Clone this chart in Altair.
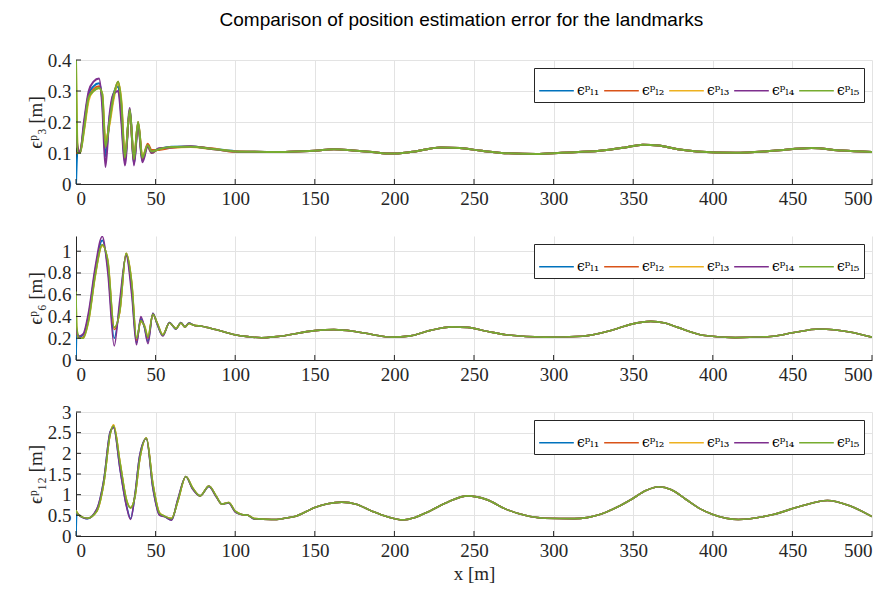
import altair as alt
import pandas as pd

TITLE = "Comparison of position estimation error for the landmarks"
LABELS = ["ϵᵖₗ₁", "ϵᵖₗ₂", "ϵᵖₗ₃", "ϵᵖₗ₄", "ϵᵖₗ₅"]
COLORS = ["#0072BD", "#D95319", "#EDB120", "#7E2F8E", "#77AC30"]
X_TICKS = [0, 50, 100, 150, 200, 250, 300, 350, 400, 450, 500]

# ---------------- panel 1 : eps_3 ----------------
P1_X = [0, 1, 2.5, 5, 8, 11, 14.5, 16.5, 18.5, 21, 23.5, 26.5, 28.5, 30.7, 33.8,
        36.4, 39, 41.7, 45, 47.5, 52, 60, 72, 85, 100]
P1_L1 = [0, 0.11, 0.1, 0.19, 0.29, 0.315, 0.325, 0.27, 0.09, 0.21, 0.29, 0.315, 0.22, 0.07, 0.24,
         0.065, 0.195, 0.075, 0.125, 0.105, 0.112, 0.12, 0.121, 0.114, 0.106]
P1_L2 = [0.1, 0.1, 0.105, 0.18, 0.28, 0.305, 0.315, 0.28, 0.12, 0.2, 0.28, 0.33, 0.25, 0.08, 0.235,
         0.07, 0.2, 0.08, 0.13, 0.11, 0.11, 0.117, 0.12, 0.115, 0.104]
P1_L3 = [0.4, 0.12, 0.1, 0.17, 0.27, 0.3, 0.31, 0.29, 0.14, 0.19, 0.27, 0.325, 0.27, 0.09, 0.23,
         0.085, 0.195, 0.09, 0.12, 0.1, 0.113, 0.118, 0.119, 0.113, 0.106]
P1_L4 = [0.16, 0.12, 0.1, 0.2, 0.3, 0.33, 0.34, 0.25, 0.055, 0.22, 0.29, 0.30, 0.2, 0.06, 0.245,
         0.06, 0.19, 0.07, 0.12, 0.1, 0.115, 0.118, 0.122, 0.113, 0.105]
P1_L5 = [0.4, 0.1, 0.1, 0.175, 0.28, 0.3, 0.31, 0.29, 0.12, 0.2, 0.28, 0.33, 0.26, 0.085, 0.24,
         0.08, 0.2, 0.085, 0.125, 0.105, 0.112, 0.119, 0.12, 0.114, 0.105]
P1_TAIL_X = [110, 126, 138, 150, 162, 174, 186, 198, 210, 229, 241, 255, 272, 289, 305, 329,
             345, 356, 366, 378, 390, 414, 438, 462, 481, 500]
P1_TAIL_Y = [0.104, 0.103, 0.105, 0.107, 0.112, 0.108, 0.103, 0.098, 0.103, 0.118, 0.116, 0.107,
             0.099, 0.097, 0.101, 0.107, 0.118, 0.127, 0.124, 0.112, 0.105, 0.101, 0.107, 0.116,
             0.108, 0.103]
P1_YTICKS = [0, 0.1, 0.2, 0.3, 0.4]

# ---------------- panel 2 : eps_6 ----------------
P2_X = [0, 0.5, 2, 4.5, 8, 12, 16.5, 20, 24, 27.5, 31.5, 35, 38, 40.7, 43, 45.2, 48.3, 51,
        54.5, 58.7, 62.8, 65.9, 68.4, 71, 74, 79, 87.6, 99, 108, 116.5]
P2_L1 = [0, 0.25, 0.21, 0.23, 0.42, 0.82, 1.10, 0.85, 0.2, 0.5, 0.97, 0.65, 0.16, 0.38, 0.3,
         0.17, 0.43, 0.33, 0.225, 0.345, 0.285, 0.345, 0.305, 0.34, 0.32, 0.31, 0.28, 0.235,
         0.215, 0.205]
P2_L2 = [0.35, 0.25, 0.2, 0.21, 0.38, 0.78, 1.06, 0.9, 0.28, 0.45, 0.98, 0.7, 0.18, 0.36, 0.31,
         0.2, 0.42, 0.34, 0.23, 0.34, 0.29, 0.34, 0.305, 0.335, 0.32, 0.31, 0.28, 0.235,
         0.215, 0.205]
P2_L3 = [0.6, 0.3, 0.2, 0.2, 0.36, 0.76, 1.05, 0.92, 0.3, 0.44, 0.98, 0.72, 0.2, 0.35, 0.32,
         0.22, 0.42, 0.34, 0.235, 0.34, 0.29, 0.34, 0.305, 0.335, 0.32, 0.31, 0.28, 0.235,
         0.215, 0.205]
P2_L4 = [0.3, 0.25, 0.22, 0.24, 0.45, 0.85, 1.135, 0.8, 0.13, 0.55, 0.96, 0.6, 0.14, 0.40, 0.3,
         0.15, 0.43, 0.33, 0.22, 0.345, 0.285, 0.345, 0.305, 0.34, 0.32, 0.31, 0.28, 0.235,
         0.215, 0.205]
P2_L5 = [0.63, 0.3, 0.2, 0.2, 0.37, 0.77, 1.06, 0.91, 0.3, 0.45, 0.98, 0.71, 0.2, 0.36, 0.31,
         0.21, 0.42, 0.34, 0.23, 0.34, 0.29, 0.34, 0.305, 0.335, 0.32, 0.31, 0.28, 0.235,
         0.215, 0.205]
P2_TAIL_X = [126, 150, 162, 174, 186, 198, 210, 222, 236, 246, 258, 270, 294, 318, 337, 349,
             361, 370, 378, 395, 414, 438, 450, 467, 486, 500]
P2_TAIL_Y = [0.215, 0.27, 0.279, 0.265, 0.235, 0.21, 0.222, 0.27, 0.305, 0.3, 0.265, 0.232,
             0.21, 0.219, 0.275, 0.33, 0.355, 0.34, 0.3, 0.225, 0.206, 0.219, 0.25, 0.285,
             0.258, 0.21]
P2_YTICKS = [0, 0.2, 0.4, 0.6, 0.8, 1]

# ---------------- panel 3 : eps_12 ----------------
P3_X = [0, 0.5, 2, 7, 13, 17.5, 21.5, 23.6, 27.7, 31.8, 34.3, 37, 40, 44.2, 48.3, 52.5, 55.6,
        60, 64, 69, 73, 78, 83.5, 88, 91.7, 95.9, 100, 104, 108, 112, 122.7]
P3_L1 = [0, 0.55, 0.5, 0.42, 0.64, 1.36, 2.52, 2.63, 1.62, 0.72, 0.42, 0.98, 1.93, 2.36, 1.17,
         0.51, 0.47, 0.39, 0.88, 1.44, 1.16, 0.97, 1.2, 0.96, 0.77, 0.8, 0.59, 0.52, 0.5, 0.41,
         0.40]
P3_L2 = [0.6, 0.58, 0.5, 0.43, 0.6, 1.3, 2.48, 2.68, 1.75, 0.85, 0.68, 0.95, 1.85, 2.37, 1.25,
         0.55, 0.48, 0.42, 0.85, 1.44, 1.18, 0.97, 1.21, 0.97, 0.77, 0.81, 0.6, 0.52, 0.5, 0.42,
         0.40]
P3_L3 = [0.62, 0.58, 0.5, 0.43, 0.59, 1.28, 2.47, 2.69, 1.78, 0.87, 0.69, 0.94, 1.84, 2.37,
         1.27, 0.56, 0.48, 0.43, 0.84, 1.44, 1.18, 0.97, 1.21, 0.97, 0.77, 0.81, 0.6, 0.52, 0.5,
         0.42, 0.40]
P3_L4 = [0.6, 0.55, 0.5, 0.42, 0.65, 1.37, 2.52, 2.62, 1.6, 0.7, 0.40, 1.0, 1.95, 2.36, 1.15,
         0.5, 0.47, 0.38, 0.9, 1.44, 1.15, 0.97, 1.2, 0.95, 0.77, 0.8, 0.58, 0.52, 0.5, 0.41,
         0.40]
P3_L5 = [0.62, 0.57, 0.5, 0.43, 0.6, 1.29, 2.47, 2.66, 1.77, 0.86, 0.68, 0.95, 1.85, 2.37,
         1.26, 0.55, 0.48, 0.42, 0.85, 1.44, 1.18, 0.97, 1.21, 0.97, 0.77, 0.81, 0.6, 0.52, 0.5,
         0.42, 0.40]
P3_TAIL_X = [126, 131, 138, 144, 150, 158, 167, 176, 186, 196, 205, 213, 222, 234, 246, 258,
             270, 282, 294, 313, 329, 340, 349, 358, 366, 374, 383, 391, 400, 416, 438, 455,
             472, 486, 500]
P3_TAIL_Y = [0.40, 0.43, 0.48, 0.58, 0.69, 0.78, 0.82, 0.77, 0.60, 0.46, 0.39, 0.45, 0.6, 0.83,
             0.97, 0.88, 0.65, 0.5, 0.43, 0.42, 0.52, 0.7, 0.89, 1.1, 1.19, 1.12, 0.89, 0.68,
             0.52, 0.40, 0.52, 0.72, 0.86, 0.73, 0.47]
P3_YTICKS = [0, 0.5, 1, 1.5, 2, 2.5, 3]

W, H = 796, 124
AX = "#262626"


def build(early_x, series, tail_x, tail_y):
    rows = []
    for lab, vals in zip(LABELS, series):
        for x, y in zip(early_x, vals):
            rows.append({"x": x, "y": y, "series": lab})
        for x, y in zip(tail_x, tail_y):
            rows.append({"x": x, "y": y, "series": lab})
    return pd.DataFrame(rows)


def panel(df, ymax, yticks, ytitle, xtitle, sw):
    xaxis = alt.Axis(values=X_TICKS, title=xtitle, grid=True, format="d", titlePadding=4)
    yaxis = alt.Axis(values=yticks, title=ytitle, grid=True, format="~r")
    xenc = alt.X("x:Q", scale=alt.Scale(domain=[0, 500], nice=False), axis=xaxis)
    yscale = alt.Scale(domain=[0, ymax], nice=False)
    lines = alt.Chart(df).mark_line(strokeWidth=sw, interpolate="monotone", clip=True).encode(
        x=xenc,
        y=alt.Y("y:Q", scale=yscale, axis=yaxis),
        color=alt.Color(
            "series:N",
            scale=alt.Scale(domain=LABELS, range=COLORS),
            legend=alt.Legend(
                orient="top-right", offset=8, direction="horizontal",
                title=None, symbolType="stroke", symbolSize=1200,
                symbolStrokeWidth=1.6, labelFont="DejaVu Serif", labelFontSize=14,
                labelColor="#000000", strokeColor=AX, fillColor="white",
                padding=4, columnPadding=0, labelOffset=2,
            ),
        ),
    )
    xt = alt.Chart(pd.DataFrame({"x": X_TICKS})).mark_rule(color=AX).encode(
        x=xenc, y=alt.value(H), y2=alt.value(H - 5))
    yt = alt.Chart(pd.DataFrame({"y": yticks})).mark_rule(color=AX).encode(
        y=alt.Y("y:Q", scale=yscale, axis=yaxis), x=alt.value(0), x2=alt.value(5))
    return alt.layer(lines, xt, yt).properties(width=W, height=H)


p1 = panel(build(P1_X, [P1_L1, P1_L2, P1_L3, P1_L4, P1_L5], P1_TAIL_X, P1_TAIL_Y),
           0.4, P1_YTICKS, "ϵᵖ₃ [m]", None, 2.0)
p2 = panel(build(P2_X, [P2_L1, P2_L2, P2_L3, P2_L4, P2_L5], P2_TAIL_X, P2_TAIL_Y),
           1.14, P2_YTICKS, "ϵᵖ₆ [m]", None, 1.6)
p3 = panel(build(P3_X, [P3_L1, P3_L2, P3_L3, P3_L4, P3_L5], P3_TAIL_X, P3_TAIL_Y),
           3, P3_YTICKS, "ϵᵖ₁₂ [m]", "x [m]", 1.6)

chart = alt.vconcat(p1, p2, p3, spacing=52, bounds="flush").resolve_legend(
    color="independent"
).properties(
    title=alt.TitleParams(TITLE, font="Liberation Sans", fontSize=19, fontWeight="normal",
                          anchor="middle", color="#000000", offset=21, dx=12),
    background="white",
    padding={"left": 17, "top": 2, "right": 0, "bottom": 0},
).configure_axis(
    labelFont="Liberation Serif", labelFontSize=19, labelColor=AX,
    titleFont="Liberation Serif", titleFontSize=19, titleFontWeight="normal", titleColor=AX,
    domainColor=AX, gridColor="#e3e3e3", ticks=False, labelPadding=5, titlePadding=2,
).configure_view(stroke="transparent")

chart.save("out.html", embed_options={"renderer": "svg", "actions": False})
